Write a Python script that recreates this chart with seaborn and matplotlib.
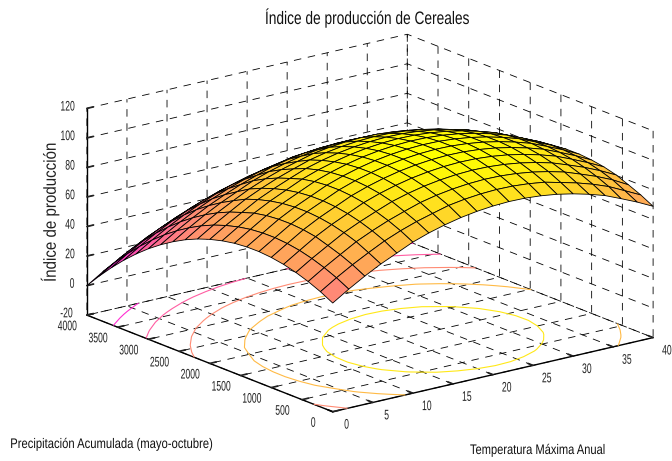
import numpy as np
import matplotlib
matplotlib.use("Agg")
import matplotlib.pyplot as plt
import matplotlib.patheffects as pe
from matplotlib.transforms import Affine2D
import seaborn as sns

temp = [0, 2, 4, 6, 8, 10, 12, 14, 16, 18, 20, 22, 24, 26, 28, 30, 32, 34, 36, 38, 40]
precip = [0, 200, 400, 600, 800, 1000, 1200, 1400, 1600, 1800, 2000, 2200, 2400, 2600, 2800, 3000, 3200, 3400, 3600, 3800, 4000]

# indice de produccion, una fila por cada valor de precip
indice = [
    [53.6, 60.5, 66.8, 72.5, 77.4, 82.3, 86.0, 89.0, 91.4, 93.1, 94.2, 94.7, 94.5, 93.6, 92.1, 89.9, 87.1, 83.7, 79.1, 74.3, 68.9],
    [58.0, 64.9, 71.2, 76.9, 82.3, 86.7, 90.4, 93.4, 96.3, 98.0, 99.1, 99.6, 99.4, 98.5, 97.0, 94.3, 91.5, 88.1, 84.0, 78.7, 73.3],
    [61.6, 68.5, 74.8, 81.0, 85.9, 90.3, 94.0, 97.5, 99.9, 101.6, 102.7, 103.2, 103.0, 102.1, 100.6, 98.4, 95.6, 91.7, 87.6, 82.8, 76.9],
    [64.5, 71.4, 77.7, 83.9, 88.8, 93.2, 97.4, 100.4, 102.8, 104.5, 105.6, 106.1, 105.9, 105.0, 103.5, 101.3, 98.5, 94.6, 90.5, 85.7, 80.3],
    [66.7, 73.6, 80.4, 86.1, 91.0, 95.9, 99.6, 102.6, 105.0, 106.7, 107.8, 108.3, 108.1, 107.2, 105.7, 103.5, 100.7, 97.3, 92.7, 87.9, 82.5],
    [68.1, 75.0, 81.8, 87.5, 92.4, 97.3, 101.0, 104.0, 106.4, 108.1, 109.2, 109.7, 109.5, 108.6, 107.1, 104.9, 102.1, 98.7, 94.1, 89.3, 83.9],
    [68.8, 75.7, 82.5, 88.2, 93.1, 98.0, 101.7, 104.7, 107.1, 108.8, 109.9, 110.4, 110.2, 109.3, 107.8, 105.6, 102.8, 99.4, 94.8, 90.0, 84.6],
    [68.7, 75.6, 82.4, 88.1, 93.0, 97.9, 101.6, 104.6, 107.0, 108.7, 109.8, 110.3, 110.1, 109.2, 107.7, 105.5, 102.7, 99.3, 94.7, 89.9, 84.5],
    [67.9, 74.8, 81.6, 87.3, 92.2, 97.1, 100.8, 103.8, 106.2, 107.9, 109.0, 109.5, 109.3, 108.4, 106.9, 104.7, 101.9, 98.5, 93.9, 89.1, 83.7],
    [66.3, 73.2, 80.0, 85.7, 90.6, 95.5, 99.2, 102.2, 104.6, 106.3, 107.4, 107.9, 107.7, 106.8, 105.3, 103.1, 100.3, 96.9, 92.3, 87.5, 82.1],
    [64.0, 70.9, 77.2, 83.4, 88.3, 92.7, 96.9, 99.9, 102.3, 104.0, 105.1, 105.6, 105.4, 104.5, 103.0, 100.8, 98.0, 94.1, 90.0, 85.2, 79.8],
    [61.0, 67.9, 74.2, 80.4, 85.3, 89.7, 93.4, 96.9, 99.3, 101.0, 102.1, 102.6, 102.4, 101.5, 100.0, 97.8, 94.5, 91.1, 87.0, 82.2, 76.3],
    [57.2, 64.1, 70.4, 76.1, 81.5, 85.9, 89.6, 92.6, 95.5, 97.2, 98.3, 98.8, 98.6, 97.7, 96.2, 93.5, 90.7, 87.3, 83.2, 77.9, 72.5],
    [52.6, 59.5, 65.8, 71.5, 76.4, 81.3, 85.0, 88.0, 90.4, 92.1, 93.2, 93.7, 93.5, 92.6, 91.1, 88.9, 86.1, 82.7, 78.1, 73.3, 67.9],
    [47.3, 54.2, 60.5, 66.2, 71.1, 75.5, 79.2, 82.7, 85.1, 86.8, 87.9, 88.4, 88.2, 87.3, 85.8, 83.6, 80.8, 76.9, 72.8, 68.0, 62.6],
    [41.3, 48.2, 54.5, 60.2, 65.1, 69.5, 73.2, 76.2, 78.6, 80.8, 81.9, 82.4, 82.2, 81.3, 79.3, 77.1, 74.3, 70.9, 66.8, 62.0, 56.6],
    [34.5, 41.4, 47.7, 53.4, 58.3, 62.7, 66.4, 69.4, 71.8, 73.5, 74.6, 75.1, 74.9, 74.0, 72.5, 70.3, 67.5, 64.1, 60.0, 55.2, 49.8],
    [27.0, 33.9, 40.2, 45.9, 50.8, 55.2, 58.9, 61.9, 64.3, 66.0, 67.1, 67.6, 67.4, 66.5, 65.0, 62.8, 60.0, 56.6, 52.5, 47.7, 42.3],
    [18.7, 25.6, 31.9, 37.6, 42.5, 46.9, 50.6, 53.6, 56.0, 57.7, 58.8, 59.3, 59.1, 58.2, 56.7, 54.5, 51.7, 48.3, 44.2, 39.4, 34.0],
    [9.7, 16.6, 22.9, 28.6, 33.5, 37.9, 41.6, 44.6, 47.0, 48.7, 49.8, 50.3, 50.1, 49.2, 47.7, 45.5, 42.7, 39.3, 35.2, 30.4, 25.0],
    [0.0, 6.9, 13.2, 18.9, 23.8, 28.2, 31.9, 34.9, 37.3, 39.0, 40.1, 40.6, 40.4, 39.5, 38.0, 35.8, 33.0, 29.6, 25.5, 20.7, 15.3],
]

temp_ticks = [0, 5, 10, 15, 20, 25, 30, 35, 40]
precip_ticks = [0, 500, 1000, 1500, 2000, 2500, 3000, 3500, 4000]
indice_ticks = [-20, 0, 20, 40, 60, 80, 100, 120]
niveles = [0, 20, 40, 60, 80, 100]


# la letra del original es estrecha y aqui no hay Arial Narrow: se aprieta el texto al dibujarlo
class Estrecho(pe.AbstractPathEffect):
    def __init__(self, sx, dx=0, dy=0, desde_izq=False):
        super().__init__()
        self.sx, self.dx, self.dy, self.desde_izq = sx, dx, dy, desde_izq

    def draw_path(self, renderer, gc, tpath, affine, rgbFace=None):
        box = tpath.get_extents()
        cx = box.x0 if self.desde_izq else (box.x0 + box.x1) / 2
        t = Affine2D().translate(-cx, 0).scale(self.sx, 1).translate(cx, 0)
        renderer.draw_path(gc, tpath, t + affine + Affine2D().translate(self.dx, self.dy), rgbFace)


sns.set_theme(style="white")
plt.rcParams['font.family'] = ['Liberation Sans', 'DejaVu Sans']
plt.rcParams['axes.unicode_minus'] = False

T, P = np.meshgrid(temp, precip)
Z = np.array(indice)
cmap = sns.color_palette("spring", as_cmap=True)

fig = plt.figure(figsize=(6.72, 4.61), dpi=100)
ax = fig.add_subplot(111, projection='3d', proj_type='ortho', computed_zorder=False)
ax.set_box_aspect((1, 1, 0.537))
ax.view_init(elev=17.55, azim=-127.5)
ax.set_position([65.5 / 672, -66.5 / 461, 593 / 672, 593 / 461])
ax.patch.set_alpha(0)

ax.contour(T, P, Z, levels=niveles, offset=-20, zdir='z', cmap=cmap, vmin=0, vmax=110,
           linewidths=0.8, zorder=1)
ax.plot_surface(T, P, Z, rstride=1, cstride=1, cmap=cmap, vmin=0, vmax=110, shade=False,
                edgecolor='black', linewidth=0.6, antialiased=True, zorder=2)

ax.set_xlim(0, 40)
ax.set_ylim(0, 4000)
ax.set_zlim(-20, 120)
ax.set_xticks(temp_ticks)
ax.set_yticks(precip_ticks)
ax.set_zticks(indice_ticks)

for axis in (ax.xaxis, ax.yaxis, ax.zaxis):
    axis.set_pane_color((1, 1, 1, 0))
    axis.pane.set_edgecolor((1, 1, 1, 0))
    axis.line.set_color('black')
    axis.line.set_linewidth(1)
    axis._axinfo['grid'].update(color='black', linewidth=0.6, linestyle=(0, (9, 8)))
    axis._axinfo['tick'].update(inward_factor=0, outward_factor=0.25)
    axis.set_tick_params(labelsize=10, pad=0, colors='#222222')

for lab in ax.get_xticklabels():
    lab.set_path_effects([Estrecho(0.62, 5, 5)])
for lab in ax.get_yticklabels():
    lab.set_path_effects([Estrecho(0.62, -8, 6)])
ajuste_z = [0, 5.5, 3.5, 3.5, 3.5, 3.5, 1, 1]
for lab, dx in zip(ax.get_zticklabels(), ajuste_z):
    lab.set_path_effects([Estrecho(0.62, dx, 8)])

color_txt = '#111111'
t1 = fig.text(367 / 672, 1 - 18 / 461, 'Índice de producción de Cereales', ha='center', va='center', fontsize=13, color=color_txt)
t1.set_path_effects([Estrecho(0.76)])
t2 = fig.text(10 / 672, 1 - 444 / 461, 'Precipitación Acumulada (mayo-octubre)', ha='left', va='center', fontsize=10, color=color_txt)
t2.set_path_effects([Estrecho(0.81, desde_izq=True)])
t3 = fig.text(538 / 672, 1 - 450 / 461, 'Temperatura Máxima Anual', ha='center', va='center', fontsize=10, color=color_txt)
t3.set_path_effects([Estrecho(0.8)])
t4 = fig.text(50 / 672, 1 - 212 / 461, 'Índice de producción', rotation=90, ha='center', va='center', fontsize=12.5, color='#222222')
t4.set_path_effects([Estrecho(0.87)])

fig.savefig('out.png', dpi=100)
